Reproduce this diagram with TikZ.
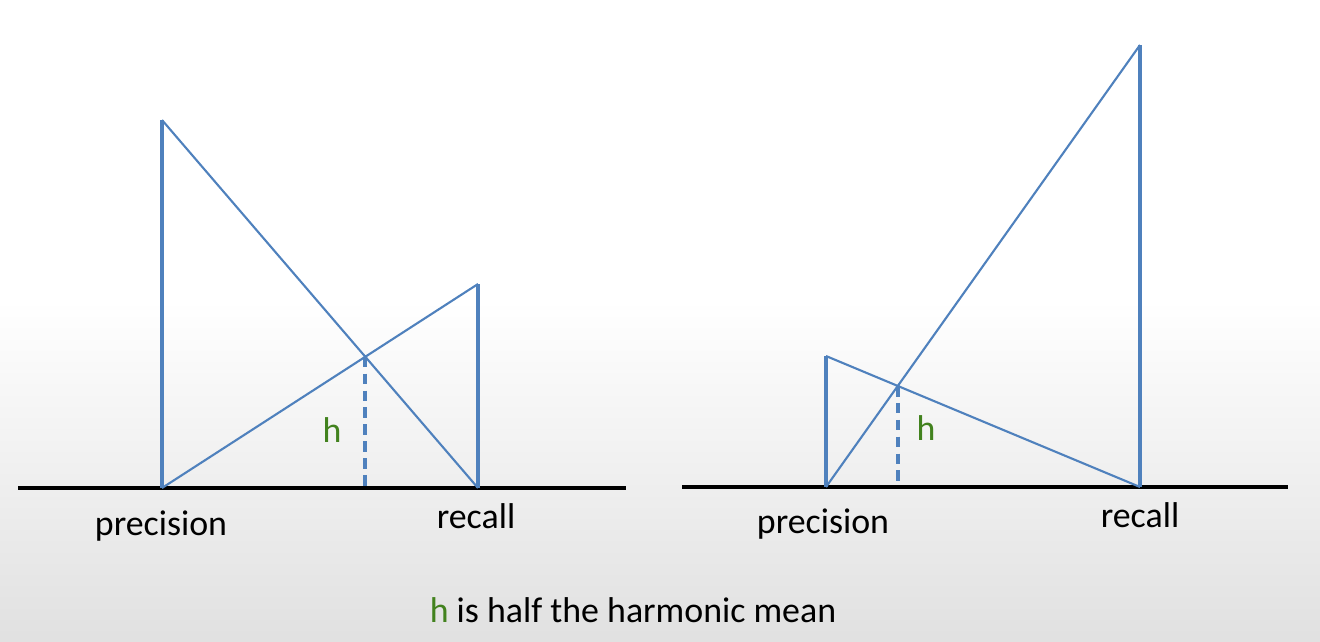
\documentclass[tikz,border=0pt]{standalone}
\usepackage{fontspec}
\setmainfont{Carlito}
\usetikzlibrary{calc}
\definecolor{edge}{RGB}{79,129,189}
\definecolor{hgreen}{RGB}{66,130,30}
\definecolor{floor}{gray}{0.86}

\begin{document}
\begin{tikzpicture}[x=0.01cm, y=-0.01cm,
   leg/.style={draw=edge, line width=0.9pt},
   hyp/.style={draw=edge, line width=0.6pt},
   hdash/.style={draw=edge, line width=1.1pt, dash pattern=on 3pt off 1.8pt},
   base/.style={draw=black, line width=1.2pt},
   lbl/.style={font=\fontsize{10.2}{12}\selectfont, anchor=base, inner sep=0pt},
   hl/.style={lbl, text=hgreen}]
  \useasboundingbox (0,0) rectangle (1320,642);
  \shade[top color=white, bottom color=floor] (0,300) rectangle (1320,700);
  % left (precision > recall)
  \coordinate (a1) at (18,488); \coordinate (b1) at (626,488);
  \coordinate (p1) at (162,488); \coordinate (pt1) at (162,120);
  \coordinate (r1) at (478,488); \coordinate (rt1) at (478,284);
  \coordinate (x1) at (intersection of pt1--r1 and p1--rt1);
  \draw[base] (a1)--(b1);
  \draw[leg] (p1)--(pt1) (r1)--(rt1);
  \draw[hyp] (pt1)--(r1) (p1)--(rt1);
  \draw[hdash] (x1)--(x1 |- p1);
  \node[hl](h1) at (332,442){h};
  \node[lbl](prec1) at (161,535){precision};
  \node[lbl](rec1) at (476,528){recall};
  % right (recall > precision)
  \coordinate (a2) at (682,487); \coordinate (b2) at (1288,487);
  \coordinate (p2) at (826,487); \coordinate (pt2) at (826,356);
  \coordinate (r2) at (1140,487); \coordinate (rt2) at (1140,45);
  \coordinate (x2) at (intersection of pt2--r2 and p2--rt2);
  \draw[base] (a2)--(b2);
  \draw[leg] (p2)--(pt2) (r2)--(rt2);
  \draw[hyp] (pt2)--(r2) (p2)--(rt2);
  \draw[hdash] (x2)--(x2 |- p2);
  \node[hl](h2) at (926,440){h};
  \node[lbl](prec2) at (823,533){precision};
  \node[lbl](rec2) at (1140,527){recall};
  % caption
  \node[lbl](note) at (633,622){\textcolor{hgreen}{h} is half the harmonic mean};
\end{tikzpicture}
\end{document}
